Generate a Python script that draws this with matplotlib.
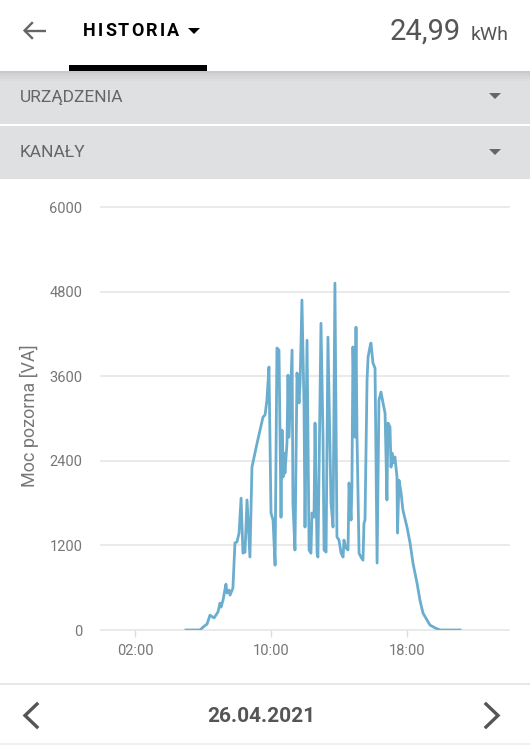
import matplotlib

matplotlib.use("Agg")
import matplotlib.pyplot as plt  # noqa: E402
from matplotlib.patches import Polygon, Rectangle  # noqa: E402

plt.rcParams["font.family"] = ["Roboto", "DejaVu Sans"]

# apparent power over the day (hour, VA)
hours = [
    5.00, 5.82, 6.00, 6.24, 6.41, 6.65, 6.88, 7.00, 7.06, 7.18, 7.35, 7.41, 7.53, 7.59,
    7.76, 7.88, 8.00, 8.12, 8.24, 8.35, 8.47, 8.59, 8.76, 8.88, 9.18, 9.53, 9.65, 9.76,
    9.88, 10.00, 10.12, 10.24, 10.35, 10.47, 10.59, 10.65, 10.71, 10.76, 10.82, 10.94,
    11.00, 11.06, 11.24, 11.29, 11.41, 11.53, 11.65, 11.71, 11.82, 11.94, 12.00, 12.12,
    12.24, 12.35, 12.41, 12.53, 12.59, 12.71, 12.76, 12.94, 13.06, 13.12, 13.24, 13.35,
    13.53, 13.65, 13.76, 13.88, 14.00, 14.12, 14.24, 14.29, 14.41, 14.53, 14.59, 14.71,
    14.76, 14.82, 14.94, 15.00, 15.06, 15.18, 15.29, 15.41, 15.47, 15.53, 15.65, 15.71,
    15.82, 15.88, 16.00, 16.12, 16.24, 16.35, 16.47, 16.59, 16.71, 16.82, 16.88, 17.00,
    17.06, 17.12, 17.18, 17.29, 17.41, 17.44, 17.53, 17.65, 17.76, 18.00, 18.18, 18.35,
    18.59, 18.76, 18.94, 19.18, 19.35, 19.65, 19.94, 21.12,
]
power_va = [
    0, 0, 40, 85, 210, 170, 255, 380, 325, 425, 650, 525, 565, 495,
    595, 1235, 1250, 1375, 1870, 1090, 1105, 1845, 1035, 2310, 2650, 3020, 3050, 3260,
    3730, 1660, 1560, 920, 4000, 3970, 1600, 2835, 2170, 2510, 2225, 2650,
    3615, 2735, 3970, 1800, 1135, 3645, 3220, 3500, 4680, 3220, 1460, 4110,
    1135, 1090, 1660, 1600, 2935, 1090, 1035, 4350, 2735, 1135, 1105, 4155,
    1800, 1460, 4920, 1320, 1275, 1090, 1035, 1275, 1165, 1135, 2085, 1560,
    2030, 4015, 2735, 4295, 2735, 1090, 1035, 990, 1515, 1560, 3545, 3870,
    4015, 4070, 3785, 3715, 950, 3260, 3375, 3220, 3075, 1845, 2935, 2880,
    2310, 2510, 2370, 2455, 2170, 1375, 2125, 1945, 1700, 1460, 1235, 950,
    665, 425, 240, 140, 70, 30, 0, 0,
]
y_ticks = [0, 1200, 2400, 3600, 4800, 6000]
x_ticks = [2, 10, 18]
x_labels = ["02:00", "10:00", "18:00"]

W, H = 530, 749
fig = plt.figure(figsize=(W / 100, H / 100), dpi=100)
fig.patch.set_facecolor("white")

# screen chrome, in pixel coordinates
bg = fig.add_axes([0, 0, 1, 1])
bg.set_xlim(0, W)
bg.set_ylim(H, 0)
bg.axis("off")

grey_txt = "#666666"
bar = "#dfe0e2"
bg.add_patch(Rectangle((0, 71), W, 53, color=bar, lw=0))
bg.add_patch(Rectangle((0, 126), W, 53, color=bar, lw=0))
for i, a in enumerate((0.10, 0.07, 0.05, 0.03, 0.015)):  # shadow under the header
    bg.add_patch(Rectangle((0, 71 + i * 2), W, 2, color="black", alpha=a, lw=0))
bg.add_patch(Rectangle((69, 65), 138, 6, color="black", lw=0))

# back arrow
bg.plot([24, 46], [30.5, 30.5], color=grey_txt, lw=1.7, solid_capstyle="butt")
bg.plot([32, 24.6, 32], [23, 30.5, 38], color=grey_txt, lw=1.7, solid_joinstyle="miter")

# tab title, letter-spaced by hand
renderer = fig.canvas.get_renderer()
x = 83.0
for ch in "HISTORIA":
    t = bg.text(x, 30.5, ch, fontsize=13, fontweight="bold", color="black", va="center")
    x += t.get_window_extent(renderer).width + 2.1
bg.add_patch(Polygon([(188, 28), (200, 28), (194, 34)], color="black", lw=0))
bg.text(461, 32, "24,99", fontsize=21, color="#555555", va="center", ha="right")
bg.text(471, 35, "kWh", fontsize=14, color="#555555", va="center", ha="left")

bg.text(20, 97.5, "URZĄDZENIA", fontsize=12.5, color=grey_txt, va="center")
bg.add_patch(Polygon([(489, 93), (501, 93), (495, 99)], color=grey_txt, lw=0))
bg.text(20, 152.5, "KANAŁY", fontsize=12.5, color=grey_txt, va="center")
bg.add_patch(Polygon([(489, 149), (501, 149), (495, 155)], color=grey_txt, lw=0))

bg.plot([0, W], [684, 684], color="#e8e8e8", lw=1.5)
bg.plot([0, W], [744, 744], color="#ececec", lw=1.2)
bg.text(261, 716, "26.04.2021", fontsize=15, fontweight="bold", color="#555555",
        ha="center", va="center")
bg.plot([37, 25, 37], [704, 715.5, 727], color="#555555", lw=2.4, solid_joinstyle="miter")
bg.plot([486, 498, 486], [704, 715.5, 727], color="#555555", lw=2.4, solid_joinstyle="miter")

bg.text(29, 416, "Moc pozorna [VA]", fontsize=13, color="#777777", rotation=90,
        ha="center", va="center")

# the chart
ax = fig.add_axes([101 / W, (H - 630) / H, 408 / W, 423 / H])
ax.set_facecolor("none")
ax.plot(hours, power_va, color="#6badce", lw=2.0, solid_joinstyle="round", zorder=3)
ax.set_xlim(0, 24)
ax.set_ylim(0, 6000)
ax.set_yticks(y_ticks, labels=[str(v) for v in y_ticks])
ax.set_xticks(x_ticks, labels=x_labels)
for s in ax.spines.values():
    s.set_visible(False)
ax.tick_params(axis="y", length=0, pad=13.5, labelsize=10.5, labelcolor="#777777")
ax.tick_params(axis="x", length=5, width=1, color="#dddddd", pad=5,
               labelsize=10.5, labelcolor="#777777")
ax.yaxis.grid(True, color="#e6e6e6", lw=1.2)
ax.set_axisbelow(True)
for gl in ax.get_ygridlines():
    gl.set_clip_on(False)

fig.savefig("out.png", dpi=100)
